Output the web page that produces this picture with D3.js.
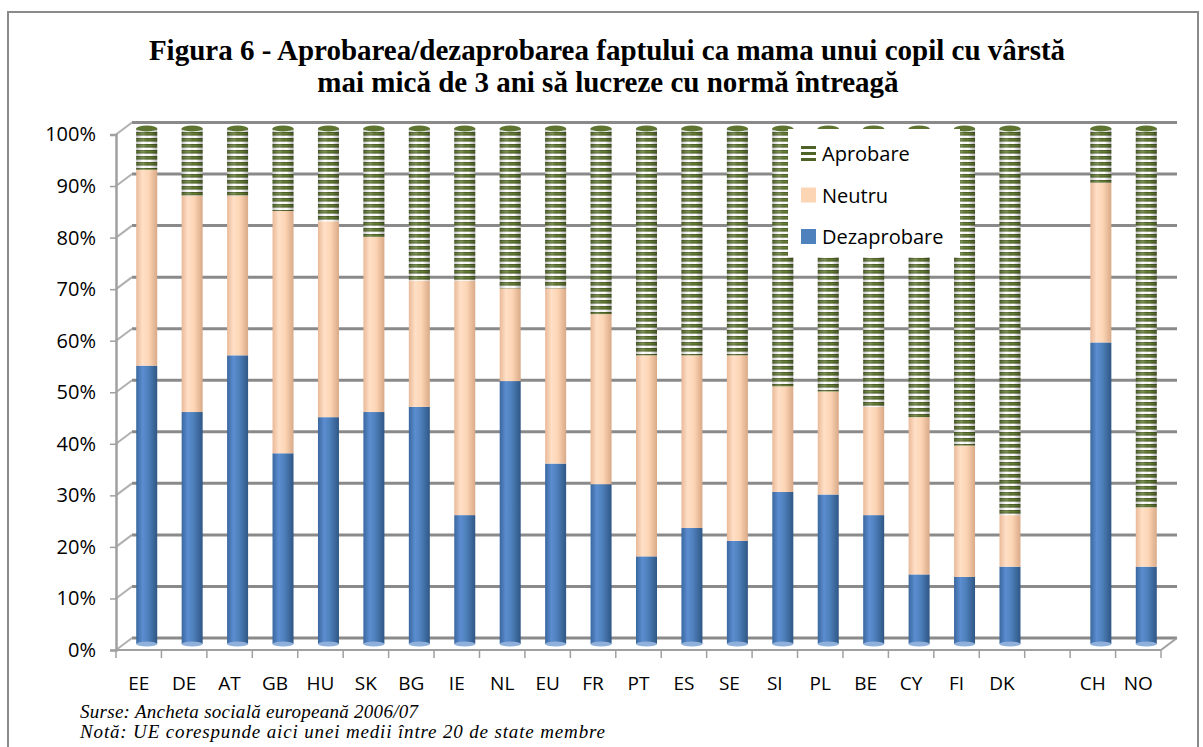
<!DOCTYPE html>
<html>
<head>
<meta charset="utf-8">
<script src="https://cdn.jsdelivr.net/npm/d3@7"></script>
<style>
  body { margin: 0; background: #fff; }
  text { font-family: "Open Sans", Lato, sans-serif; }
</style>
</head>
<body>
<svg id="chart" width="1203" height="747"></svg>
<script>
// country codes, "" is the empty gap before CH / NO
const countries = ["EE", "DE", "AT", "GB", "HU", "SK", "BG", "IE", "NL", "EU", "FR", "PT",
    "ES", "SE", "SI", "PL", "BE", "CY", "FI", "DK", "", "CH", "NO"];
// percentages
const dezaprobare = [54, 45, 56, 37, 44, 45, 46, 25, 51, 35, 31, 17, 22.5, 20, 29.5, 29, 25, 13.5, 13, 15, 0, 58.5, 15];
const neutru = [38, 42, 31, 47, 38, 34, 24.5, 45.5, 18, 34, 33, 39, 33.5, 36, 20.5, 20, 21, 30.5, 25.5, 10, 0, 31, 11.5];
const aprobare = [8, 13, 13, 16, 18, 21, 29.5, 29.5, 31, 31, 36, 44, 44, 44, 50, 51, 54, 56, 61.5, 75, 0, 10.5, 73.5];
const yTicks = [0, 10, 20, 30, 40, 50, 60, 70, 80, 90, 100];
const seriesNames = ["Dezaprobare", "Neutru", "Aprobare"];

const svg = d3.select("#chart");
const dx = 16, dy = -12,   // depth of the 3d box
    barW = 21,
    gridColor = "#8a8a8a";

const x = d3.scaleBand()
    .domain(d3.range(countries.length))
    .range([116, 1161]);

const y = d3.scaleLinear()
    .domain([0, 100])
    .range([650, 134.5]);

//outer frame
svg.append("rect")
    .attr("x", 8).attr("y", 12)
    .attr("width", 1190).attr("height", 780)
    .attr("fill", "none")
    .attr("stroke", "#8a8a8a")
    .attr("stroke-width", 2);

//title
svg.append("text")
    .attr("x", 607).attr("y", 60)
    .attr("text-anchor", "middle")
    .style("font-family", "'Liberation Serif', serif")
    .style("font-weight", "bold")
    .style("font-size", "29px")
    .text("Figura 6 - Aprobarea/dezaprobarea faptului ca mama unui copil cu vârstă");
svg.append("text")
    .attr("x", 608).attr("y", 92)
    .attr("text-anchor", "middle")
    .style("font-family", "'Liberation Serif', serif")
    .style("font-weight", "bold")
    .style("font-size", "29px")
    .text("mai mică de 3 ani să lucreze cu normă întreagă");

// gradients and the striped pattern
const defs = svg.append("defs");
function cylGradient(id, stops) {
    const g = defs.append("linearGradient").attr("id", id)
        .attr("x1", "0%").attr("x2", "100%").attr("y1", "0%").attr("y2", "0%");
    stops.forEach(s => g.append("stop").attr("offset", s[0]).attr("stop-color", s[1]));
}
cylGradient("gBlue", [["0%", "#3a679f"], ["30%", "#5b8dd0"], ["55%", "#4f81bd"], ["100%", "#2f5785"]]);
cylGradient("gPeach", [["0%", "#e9b998"], ["30%", "#ffdfc6"], ["60%", "#fcd5b5"], ["100%", "#d9a987"]]);
cylGradient("gShade", [["0%", "rgba(0,0,0,0.25)"], ["35%", "rgba(255,255,255,0.15)"], ["65%", "rgba(0,0,0,0)"], ["100%", "rgba(0,0,0,0.3)"]]);

const pat = defs.append("pattern").attr("id", "stripes")
    .attr("patternUnits", "userSpaceOnUse")
    .attr("width", 40).attr("height", 6);
pat.append("rect").attr("width", 40).attr("height", 6).attr("fill", "#ffffff");
pat.append("rect").attr("y", 0).attr("width", 40).attr("height", 3.6).attr("fill", "#4f6228");
pat.append("rect").attr("y", 1.2).attr("width", 40).attr("height", 1.2).attr("fill", "#6a8537");

const fills = ["url(#gBlue)", "url(#gPeach)", "url(#stripes)"];

//back wall gridlines
svg.append("g").selectAll("line")
    .data(yTicks)
    .enter().append("line")
    .attr("x1", x.range()[0] + dx).attr("x2", x.range()[1] + dx)
    .attr("y1", d => y(d) + dy).attr("y2", d => y(d) + dy)
    .attr("stroke", gridColor).attr("stroke-width", 3);

//side wall
svg.append("g").selectAll("line")
    .data(yTicks)
    .enter().append("line")
    .attr("x1", x.range()[0]).attr("x2", x.range()[0] + dx)
    .attr("y1", d => y(d)).attr("y2", d => y(d) + dy)
    .attr("stroke", "#b0b0b0").attr("stroke-width", 2);

//floor front edge + right edge
svg.append("line")
    .attr("x1", x.range()[0]).attr("x2", x.range()[1])
    .attr("y1", y(0)).attr("y2", y(0))
    .attr("stroke", "#a0a0a0").attr("stroke-width", 2);
svg.append("line")
    .attr("x1", x.range()[1]).attr("x2", x.range()[1] + dx)
    .attr("y1", y(0)).attr("y2", y(0) + dy)
    .attr("stroke", "#a0a0a0").attr("stroke-width", 2);

//category ticks on band edges
svg.append("g").selectAll("line")
    .data(d3.range(countries.length + 1))
    .enter().append("line")
    .attr("x1", i => x.range()[0] + i * x.step())
    .attr("x2", i => x.range()[0] + i * x.step())
    .attr("y1", y(0)).attr("y2", y(0) + 8)
    .attr("stroke", "#a0a0a0").attr("stroke-width", 1.5);

//y axis
const yAxis = svg.append("g")
    .attr("transform", "translate(" + x.range()[0] + ",0)")
    .call(d3.axisLeft(y).tickValues(yTicks).tickSize(6).tickPadding(14)
        .tickFormat(d => d + "%"));
yAxis.select(".domain").attr("stroke", "#a0a0a0").attr("stroke-width", 2.5);
yAxis.selectAll(".tick line").attr("stroke", "#a0a0a0").attr("stroke-width", 1.5);
yAxis.selectAll(".tick text")
    .style("font-family", "'Open Sans', sans-serif")
    .style("font-size", "20px")
    .attr("fill", "#000");

//x labels
const xAxis = svg.append("g")
    .attr("transform", "translate(0," + y(0) + ")")
    .call(d3.axisBottom(x).tickSize(0).tickPadding(27).tickFormat(i => countries[i]));
xAxis.select(".domain").remove();
xAxis.selectAll(".tick text")
    .style("font-family", "'Open Sans', sans-serif")
    .style("font-size", "19px")
    .attr("fill", "#000");

//stack the three series
const rows = countries.map((c, i) => ({
    i: i, Dezaprobare: dezaprobare[i], Neutru: neutru[i], Aprobare: aprobare[i]
}));
const stacked = d3.stack().keys(seriesNames)(rows.filter(r => countries[r.i] !== ""));

const barX = i => x(i) + x.bandwidth() / 2 + dx / 2 - barW / 2;
const yMid = v => y(v) + dy / 2;

const bars = svg.append("g");
stacked.forEach((s, k) => {
    bars.append("g").selectAll("rect")
        .data(s)
        .enter().append("rect")
        .attr("x", d => barX(d.data.i))
        .attr("y", d => yMid(d[1]))
        .attr("width", barW)
        .attr("height", d => yMid(d[0]) - yMid(d[1]))
        .attr("fill", fills[k]);
});

//cylinder shading over the stripes + caps
const topSeries = stacked[2];
bars.append("g").selectAll("rect")
    .data(topSeries)
    .enter().append("rect")
    .attr("x", d => barX(d.data.i))
    .attr("y", d => yMid(d[1]))
    .attr("width", barW)
    .attr("height", d => yMid(d[0]) - yMid(d[1]))
    .attr("fill", "url(#gShade)");
bars.append("g").selectAll("ellipse")
    .data(topSeries)
    .enter().append("ellipse")
    .attr("cx", d => barX(d.data.i) + barW / 2)
    .attr("cy", d => yMid(d[1]))
    .attr("rx", barW / 2).attr("ry", 3)
    .attr("fill", "#5d7531");
bars.append("g").selectAll("ellipse")
    .data(stacked[0])
    .enter().append("ellipse")
    .attr("cx", d => barX(d.data.i) + barW / 2)
    .attr("cy", d => yMid(d[0]))
    .attr("rx", barW / 2).attr("ry", 2.5)
    .attr("fill", "#8fb0da");

//legend
const legend = svg.append("g");
legend.append("rect")
    .attr("x", 788).attr("y", 129)
    .attr("width", 172).attr("height", 128)
    .attr("fill", "#fff");
const legendItems = ["Aprobare", "Neutru", "Dezaprobare"];
const legendFill = ["url(#stripes)", "#fcd5b5", "#4f81bd"];
legendItems.forEach((name, j) => {
    const base = 161 + j * 41.5;
    if (j === 0) {
        [0, 6, 12].forEach(o => legend.append("rect")
            .attr("x", 801).attr("y", base - 15 + o)
            .attr("width", 15).attr("height", 3)
            .attr("fill", "#4f6228"));
    } else {
        legend.append("rect")
            .attr("x", 801).attr("y", base - 15)
            .attr("width", 15).attr("height", 15)
            .attr("fill", legendFill[j]);
    }
    legend.append("text")
        .attr("x", 822).attr("y", base)
        .style("font-family", "'Open Sans', sans-serif")
        .style("font-size", "20px")
        .text(name);
});

//source notes
svg.append("text")
    .attr("x", 80).attr("y", 718)
    .attr("textLength", 338)
    .attr("lengthAdjust", "spacing")
    .style("font-family", "'Liberation Serif', serif")
    .style("font-style", "italic")
    .style("font-size", "19px")
    .text("Surse: Ancheta socială europeană 2006/07");
svg.append("text")
    .attr("x", 80).attr("y", 738)
    .attr("textLength", 525)
    .attr("lengthAdjust", "spacing")
    .style("font-family", "'Liberation Serif', serif")
    .style("font-style", "italic")
    .style("font-size", "19px")
    .text("Notă: UE corespunde aici unei medii între 20 de state membre");
</script>
</body>
</html>
